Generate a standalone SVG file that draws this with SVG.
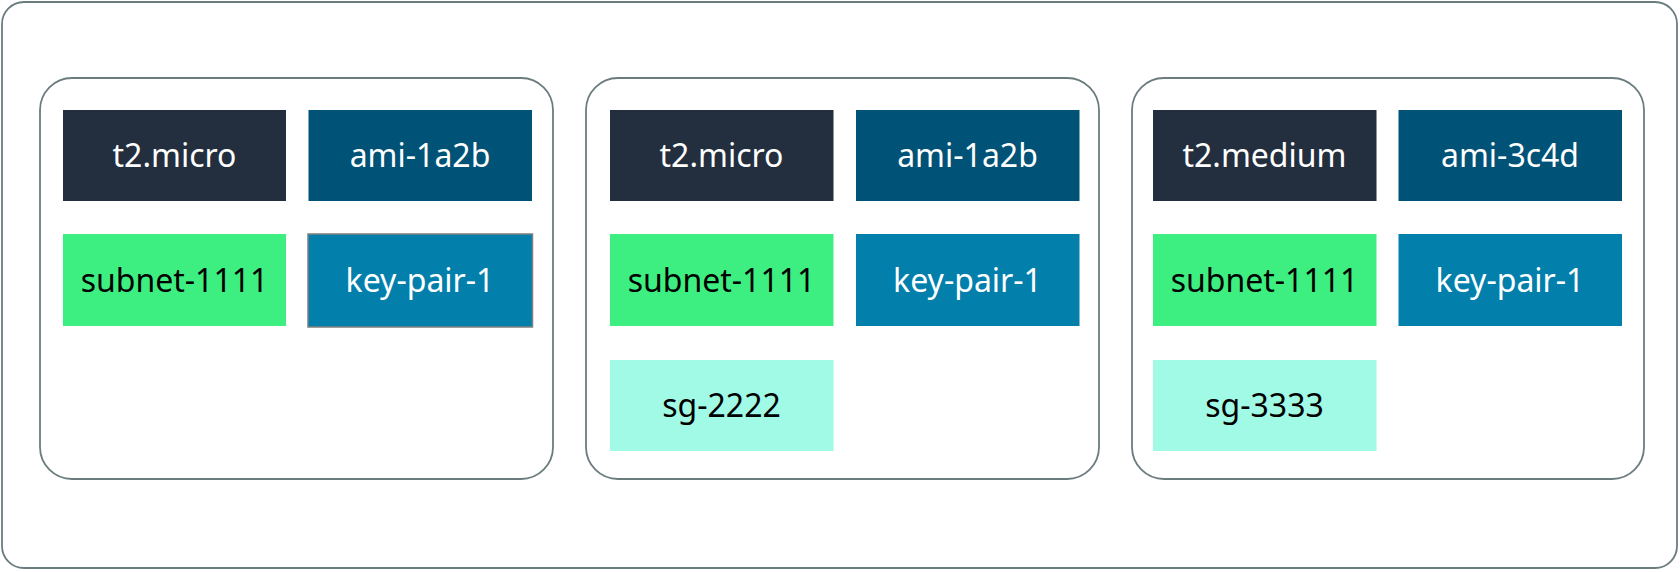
<svg xmlns="http://www.w3.org/2000/svg" width="1680" height="572" viewBox="0 0 1680 572">
<style>
.frame{fill:#ffffff;stroke:#6B7C7F;stroke-width:1.8}
.t{font-family:"Noto Sans","Open Sans",sans-serif;font-size:32px;text-anchor:middle}
.w{fill:#ffffff}
.k{fill:#000000}
.c1{fill:#232F3E}
.c2{fill:#005276}
.c3{fill:#027FAB}
.c4{fill:#3CEF80}
.c5{fill:#A0FAE6}
</style>
<rect width="1680" height="572" fill="#ffffff"/>
<g id="outer"><rect class="frame" x="2" y="2" width="1675" height="566" rx="22"/></g>

<g id="panel1">
<rect class="frame" x="40" y="78" width="513" height="401" rx="32"/>
<g id="p1-type"><rect class="c1" x="63" y="110" width="223" height="91"/><text class="t w" x="174.5" y="167">t2.micro</text></g>
<g id="p1-ami"><rect class="c2" x="308.5" y="110" width="223.5" height="91"/><text class="t w" x="420" y="167">ami-1a2b</text></g>
<g id="p1-subnet"><rect class="c4" x="63" y="234" width="223" height="92"/><text class="t k" x="174.5" y="292">subnet-1111</text></g>
<g id="p1-key"><rect class="c3" x="308" y="234" width="224.5" height="93" stroke="#7F7F7F" stroke-width="1.5"/><text class="t w" x="420" y="292">key-pair-1</text></g>
</g>

<g id="panel2">
<rect class="frame" x="586" y="78" width="513" height="401" rx="32"/>
<g id="p2-type"><rect class="c1" x="610" y="110" width="223.5" height="91"/><text class="t w" x="721.5" y="167">t2.micro</text></g>
<g id="p2-ami"><rect class="c2" x="856" y="110" width="223.5" height="91"/><text class="t w" x="967.5" y="167">ami-1a2b</text></g>
<g id="p2-subnet"><rect class="c4" x="610" y="234" width="223.5" height="92"/><text class="t k" x="721.5" y="292">subnet-1111</text></g>
<g id="p2-key"><rect class="c3" x="856" y="234" width="223.5" height="92"/><text class="t w" x="967.5" y="292">key-pair-1</text></g>
<g id="p2-sg"><rect class="c5" x="610" y="360" width="223.5" height="91"/><text class="t k" x="721.5" y="417">sg-2222</text></g>
</g>

<g id="panel3">
<rect class="frame" x="1132" y="78" width="512" height="401" rx="32"/>
<g id="p3-type"><rect class="c1" x="1153" y="110" width="223.5" height="91"/><text class="t w" x="1264.5" y="167">t2.medium</text></g>
<g id="p3-ami"><rect class="c2" x="1398.5" y="110" width="223.5" height="91"/><text class="t w" x="1510" y="167">ami-3c4d</text></g>
<g id="p3-subnet"><rect class="c4" x="1153" y="234" width="223.5" height="92"/><text class="t k" x="1264.5" y="292">subnet-1111</text></g>
<g id="p3-key"><rect class="c3" x="1398.5" y="234" width="223.5" height="92"/><text class="t w" x="1510" y="292">key-pair-1</text></g>
<g id="p3-sg"><rect class="c5" x="1153" y="360" width="223.5" height="91"/><text class="t k" x="1264.5" y="417">sg-3333</text></g>
</g>

<g id="connectors"/>
</svg>
